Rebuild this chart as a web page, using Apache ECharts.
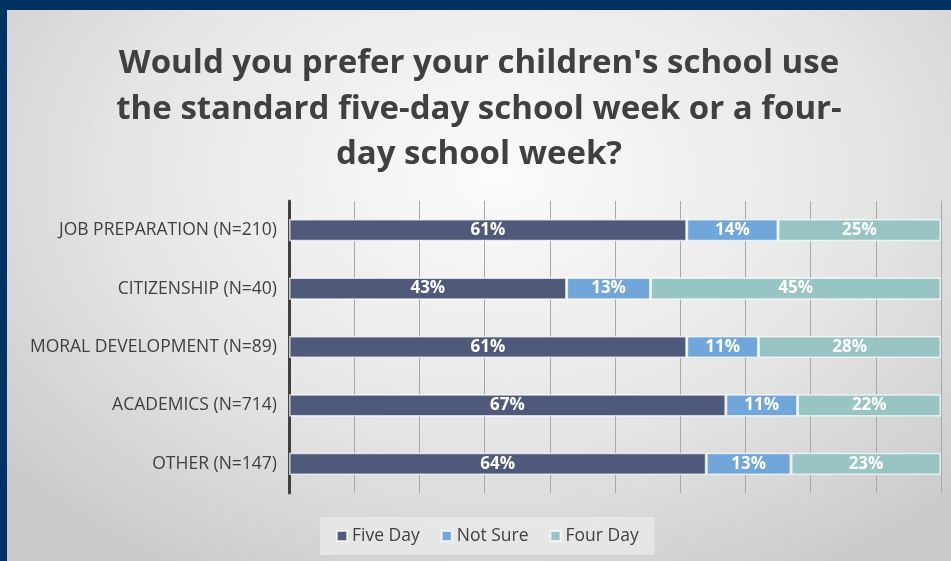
<!DOCTYPE html>
<html>
<head>
<meta charset="utf-8">
<script src="https://cdn.jsdelivr.net/npm/echarts@6/dist/echarts.min.js"></script>
<style>
  html, body { margin: 0; padding: 0; }
  #frame { position: relative; width: 951px; height: 561px; background: #023264; overflow: hidden; }
  #main {
    position: absolute; left: 7px; top: 10px; width: 944px; height: 551px;
    background: radial-gradient(ellipse 70% 85% at 52% 30%, #fbfbfb 0%, #e6e6e6 55%, #c9c9c9 100%);
  }
</style>
</head>
<body>
<div id="frame"><div id="main"></div></div>
<script>
// categories top to bottom
const categories = ['JOB PREPARATION (N=210)', 'CITIZENSHIP (N=40)', 'MORAL DEVELOPMENT (N=89)', 'ACADEMICS (N=714)', 'OTHER (N=147)']
const fiveDay = [61, 43, 61, 67, 64]
const notSure = [14, 13, 11, 11, 13]
const fourDay = [25, 45, 28, 22, 23]
const seriesNames = ['Five Day', 'Not Sure', 'Four Day']
const colors = ['#4f5a7b', '#70a6d9', '#98c5c3']

// rows are drawn as 100% of their total
const totals = categories.map((c, i) => fiveDay[i] + notSure[i] + fourDay[i])
function pct(arr) {
    return arr.map((v, i) => ({ value: v / totals[i] * 100, raw: v }))
}

var myChart = echarts.init(document.querySelector('#main'))
let option = {
    animation: false,
    title: {
        text: "Would you prefer your children's school use\nthe standard five-day school week or a four-\nday school week?",
        left: 'center',
        top: 26,
        textStyle: {
            fontFamily: 'Open Sans',
            fontWeight: 'bold',
            fontSize: 33,
            lineHeight: 45.5,
            color: '#404040'
        }
    },
    legend: {
        data: seriesNames,
        left: 313,
        bottom: 6,
        backgroundColor: 'rgba(235,235,235,0.75)',
        padding: [10, 16, 10, 16],
        itemWidth: 10,
        itemHeight: 10,
        itemGap: 21,
        icon: 'rect',
        textStyle: { fontFamily: 'Open Sans', fontSize: 17.5, color: '#404040' }
    },
    grid: { left: 282, right: 10, top: 191, bottom: 68 },
    xAxis: {
        type: 'value',
        min: 0,
        max: 100,
        interval: 10,
        axisLabel: { show: false },
        axisLine: { show: false },
        axisTick: { show: false },
        splitLine: { show: true, lineStyle: { color: '#a8a8a8', width: 1 } }
    },
    yAxis: {
        type: 'category',
        inverse: true,
        data: categories,
        axisTick: { show: false },
        axisLine: { show: true, lineStyle: { color: '#404040', width: 3 } },
        axisLabel: { fontFamily: 'Open Sans', fontSize: 17.5, color: '#404040', margin: 12 }
    },
    series: [fiveDay, notSure, fourDay].map((arr, k) => ({
        name: seriesNames[k],
        type: 'bar',
        stack: 'all',
        barWidth: '38%',
        data: pct(arr),
        itemStyle: { color: colors[k], borderColor: 'rgba(255,255,255,0.7)', borderWidth: 1.5 },
        label: {
            show: true,
            position: 'inside',
            color: '#ffffff',
            fontFamily: 'Open Sans',
            fontWeight: 'bold',
            fontSize: 17,
            formatter: p => p.data.raw + '%'
        }
    }))
}
myChart.setOption(option)
</script>
</body>
</html>
